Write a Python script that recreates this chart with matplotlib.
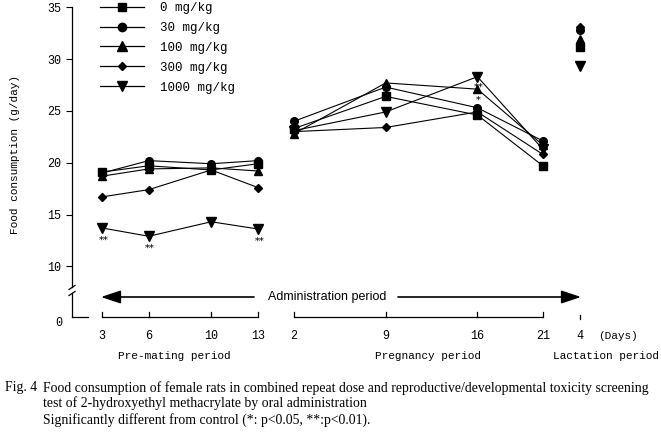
import matplotlib
matplotlib.use("Agg")
import matplotlib.pyplot as plt
from matplotlib.lines import Line2D

# ---------------- data ----------------
groups = ["0 mg/kg", "30 mg/kg", "100 mg/kg", "300 mg/kg", "1000 mg/kg"]
markers = ["s", "o", "^", "D", "v"]
marker_sizes = [5.5, 5.5, 6, 4, 6.5]

pre_days = [3, 6, 10, 13]
preg_days = [2, 9, 16, 21]
lact_days = [4]

pre_vals = {
    "0 mg/kg":    [19.1, 19.7, 19.3, 19.9],
    "30 mg/kg":   [19.0, 20.2, 19.9, 20.2],
    "100 mg/kg":  [18.7, 19.4, 19.5, 19.2],
    "300 mg/kg":  [16.7, 17.4, 19.3, 17.6],
    "1000 mg/kg": [13.7, 12.9, 14.3, 13.6],
}
preg_vals = {
    "0 mg/kg":    [23.3, 26.4, 24.6, 19.7],
    "30 mg/kg":   [24.0, 27.3, 25.3, 22.1],
    "100 mg/kg":  [22.8, 27.7, 27.1, 21.7],
    "300 mg/kg":  [23.0, 23.4, 24.9, 20.8],
    "1000 mg/kg": [23.1, 24.9, 28.3, 21.3],
}
lact_vals = {
    "0 mg/kg":    [31.2],
    "30 mg/kg":   [32.8],
    "100 mg/kg":  [31.9],
    "300 mg/kg":  [33.1],
    "1000 mg/kg": [29.3],
}
yticks = [10, 15, 20, 25, 30, 35]

# significance marks: (period, day, group, text)
sig_marks = [
    ("pre", 3, "1000 mg/kg", "**"),
    ("pre", 6, "1000 mg/kg", "**"),
    ("pre", 13, "1000 mg/kg", "**"),
    ("preg", 16, "1000 mg/kg", "**"),
    ("preg", 16, "100 mg/kg", "*"),
]

caption1 = ("Fig. 4", "Food consumption of female rats in combined repeat dose and reproductive/developmental toxicity screening")
caption2 = "test of 2-hydroxyethyl methacrylate by oral administration"
caption3 = "Significantly different from control (*: p<0.05, **:p<0.01)."

# ---------------- layout helpers ----------------
W, H = 661, 433
def fx(px):
    return px / W
def fy(py):
    return 1 - py / H

# x scale (pixel-like units) for each period
def x_pre(d):
    return 102 + (d - 3) * 15.6
def x_preg(d):
    return 294 + (d - 2) * 13.1
def x_lact(d):
    return 580 + (d - 4) * 13.1

MONO = "Liberation Mono"
SERIF = "Liberation Serif"
ASTF = "DejaVu Serif"
SANS = "Liberation Sans"

fig = plt.figure(figsize=(W / 100, H / 100), dpi=100)

# main axes: y value 35 at px 7.3, bottom at px 287
top_px, bot_px = 7.3, 287
ax = fig.add_axes([fx(72), fy(bot_px), fx(640) - fx(72), (bot_px - top_px) / H])
ax.set_xlim(72, 640)
ax.set_ylim(35 - (bot_px - top_px) / 10.36, 35)
for s in ["top", "right", "bottom"]:
    ax.spines[s].set_visible(False)
ax.spines["left"].set_linewidth(0.9)
ax.set_xticks([])
ax.set_yticks(yticks)
ax.set_yticklabels([str(v) for v in yticks], fontfamily=MONO, fontsize=8.5)
ax.tick_params(axis="y", direction="out", length=4.5, width=0.8, pad=3)
ax.patch.set_alpha(0)

handles = []
for g, m, ms in zip(groups, markers, marker_sizes):
    ax.plot([x_pre(d) for d in pre_days], pre_vals[g], color="black", lw=0.8,
            marker=m, ms=ms, mfc="black", mec="black", clip_on=False)
    ax.plot([x_preg(d) for d in preg_days], preg_vals[g], color="black", lw=0.8,
            marker=m, ms=ms, mfc="black", mec="black", clip_on=False)
    ax.plot([x_lact(d) for d in lact_days], lact_vals[g], ls="none",
            marker=m, ms=ms, mfc="black", mec="black", clip_on=False)
    handles.append(Line2D([0], [0], color="black", lw=0.9, marker=m, ms=ms + 0.5,
                          mfc="black", mec="black"))

# significance marks (asterisks placed just below the marker)
for period, d, g, txt in sig_marks:
    if period == "pre":
        xv = x_pre(d)
        yv = pre_vals[g][pre_days.index(d)]
        off = -10.5
    else:
        xv = x_preg(d)
        yv = preg_vals[g][preg_days.index(d)]
        off = -9.5
    ax.annotate(txt, (xv, yv), xytext=(1, off), textcoords="offset points",
                ha="center", va="baseline", fontsize=7, fontfamily=ASTF,
                zorder=5)

leg = ax.legend(handles, groups, loc="upper left", frameon=False,
                bbox_to_anchor=(fx(100), fy(2.0)), bbox_transform=fig.transFigure,
                borderpad=0, borderaxespad=0, handlelength=3.5, handletextpad=1.3,
                labelspacing=0.63, prop={"family": MONO, "size": 9})

# lower (zero) axes: 1 unit = 1 px, 0 at px 317
ax2 = fig.add_axes([fx(72), fy(317), fx(640) - fx(72), 24 / H])
ax2.set_xlim(72, 640)
ax2.set_ylim(0, 24)
ax2.patch.set_alpha(0)
for s in ["top", "right"]:
    ax2.spines[s].set_visible(False)
ax2.spines["left"].set_linewidth(0.9)
ax2.spines["bottom"].set_linewidth(0.9)
ax2.spines["bottom"].set_bounds(72, 88)
ax2.set_xticks([])
ax2.set_yticks([])

# time brackets
def bracket(xs):
    ax2.plot([xs[0], xs[-1]], [0, 0], color="black", lw=0.9, clip_on=False,
             solid_capstyle="butt")
    for xv in xs:
        ax2.plot([xv, xv], [0, 5], color="black", lw=0.9, clip_on=False)

bracket([x_pre(d) for d in pre_days])
bracket([x_preg(d) for d in preg_days])
for d in lact_days:
    ax2.plot([x_lact(d)] * 2, [-2, 2], color="black", lw=0.9, clip_on=False)

# administration arrows
arrow_y = 20
ax2.annotate("", xy=(101, arrow_y), xytext=(254, arrow_y),
             arrowprops=dict(arrowstyle="-|>,head_length=1.2,head_width=0.4",
                             lw=1.2, color="black", shrinkA=0, shrinkB=0,
                             mutation_scale=10), annotation_clip=False)
ax2.annotate("", xy=(581, arrow_y), xytext=(398, arrow_y),
             arrowprops=dict(arrowstyle="-|>,head_length=1.2,head_width=0.4",
                             lw=1.2, color="black", shrinkA=0, shrinkB=0,
                             mutation_scale=10), annotation_clip=False)
ax2.text(327, arrow_y, "Administration period", ha="center", va="center",
         fontfamily=SANS, fontsize=9)

# axis break marks
for py in (289.5, 295.5):
    fig.add_artist(Line2D([fx(69), fx(75)], [fy(py), fy(py - 4)],
                          transform=fig.transFigure, color="black", lw=0.9))

fig.text(fx(59), fy(323), "0", ha="center", va="center", fontfamily=MONO, fontsize=8.5)

# day labels
day_y = 336
for d in pre_days:
    fig.text(fx(x_pre(d)), fy(day_y), str(d), ha="center", va="center",
             fontfamily=MONO, fontsize=8.5)
for d in preg_days:
    fig.text(fx(x_preg(d)), fy(day_y), str(d), ha="center", va="center",
             fontfamily=MONO, fontsize=8.5)
for d in lact_days:
    fig.text(fx(x_lact(d)), fy(day_y), str(d), ha="center", va="center",
             fontfamily=MONO, fontsize=8.5)
fig.text(fx(618), fy(day_y), "(Days)", ha="center", va="center", fontfamily=MONO, fontsize=8)

per_y = 356
fig.text(fx(174), fy(per_y), "Pre-mating period", ha="center", va="center", fontfamily=MONO, fontsize=8)
fig.text(fx(428), fy(per_y), "Pregnancy period", ha="center", va="center", fontfamily=MONO, fontsize=8)
fig.text(fx(606), fy(per_y), "Lactation period", ha="center", va="center", fontfamily=MONO, fontsize=8)

# y label
fig.text(fx(15), fy(155), "Food consumption (g/day)", rotation=90, ha="center", va="center",
         fontfamily=MONO, fontsize=8)

# caption
cap_fs = 9.9
fig.text(fx(5), fy(388), caption1[0], ha="left", va="center", fontfamily=SERIF, fontsize=cap_fs)
fig.text(fx(43), fy(388), caption1[1], ha="left", va="center", fontfamily=SERIF, fontsize=cap_fs)
fig.text(fx(43), fy(403), caption2, ha="left", va="center", fontfamily=SERIF, fontsize=cap_fs)
fig.text(fx(43), fy(420), caption3, ha="left", va="center", fontfamily=SERIF, fontsize=cap_fs)

fig.savefig("out.png", dpi=100)
